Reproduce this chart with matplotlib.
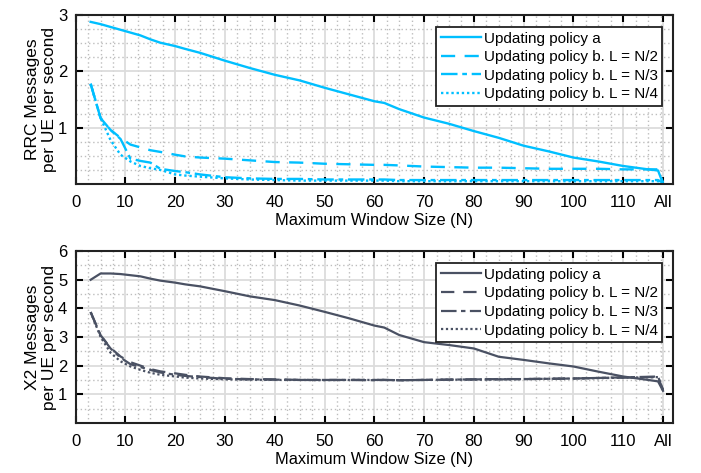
import numpy as np
import matplotlib
matplotlib.use('Agg')
import matplotlib.pyplot as plt
from matplotlib.ticker import MultipleLocator

plt.rcParams['font.family'] = ['Liberation Sans', 'DejaVu Sans']

# window sizes (last point is "All")
N = [3, 5, 7, 9, 11, 13, 15, 17, 20, 22, 25, 30, 35, 40, 45, 50, 55, 60, 62, 65,
     70, 75, 80, 85, 90, 95, 100, 105, 110, 115, 117, 118]
x_ticks = [0, 10, 20, 30, 40, 50, 60, 70, 80, 90, 100, 110, 118]
x_ticklabels = ['0', '10', '20', '30', '40', '50', '60', '70', '80', '90', '100', '110', 'All']

labels = ['Updating policy a', 'Updating policy b. L = N/2',
          'Updating policy b. L = N/3', 'Updating policy b. L = N/4']

# RRC messages per UE per second
rrc_a = [2.88, 2.84, 2.79, 2.74, 2.69, 2.64, 2.57, 2.51, 2.45, 2.40, 2.33, 2.19, 2.06, 1.94,
         1.84, 1.71, 1.59, 1.47, 1.44, 1.33, 1.18, 1.07, 0.94, 0.82, 0.68, 0.58, 0.47, 0.40,
         0.32, 0.26, 0.24, 0.01]
rrc_b2 = [1.78, 1.17, 0.96, 0.82, 0.70, 0.65, 0.60, 0.57, 0.52, 0.49, 0.47, 0.45, 0.42, 0.39,
          0.38, 0.36, 0.35, 0.34, 0.34, 0.33, 0.31, 0.30, 0.29, 0.29, 0.28, 0.27, 0.27, 0.27,
          0.26, 0.26, 0.26, 0.03]
rrc_b3 = [1.78, 1.17, 0.96, 0.80, 0.45, 0.41, 0.38, 0.27, 0.23, 0.21, 0.17, 0.12, 0.10, 0.09,
          0.09, 0.08, 0.08, 0.08, 0.08, 0.07, 0.07, 0.07, 0.07, 0.07, 0.07, 0.07, 0.07, 0.07,
          0.07, 0.07, 0.07, 0.02]
rrc_b4 = [1.78, 1.17, 0.78, 0.52, 0.40, 0.32, 0.28, 0.25, 0.17, 0.15, 0.13, 0.10, 0.08, 0.07,
          0.06, 0.06, 0.06, 0.06, 0.06, 0.05, 0.05, 0.05, 0.05, 0.05, 0.05, 0.05, 0.05, 0.05,
          0.05, 0.05, 0.05, 0.02]

# X2 messages per UE per second
x2_a = [5.00, 5.22, 5.22, 5.20, 5.16, 5.12, 5.04, 4.97, 4.90, 4.84, 4.77, 4.60, 4.42, 4.29,
        4.10, 3.88, 3.65, 3.40, 3.33, 3.07, 2.82, 2.72, 2.60, 2.31, 2.20, 2.08, 1.97, 1.79,
        1.62, 1.50, 1.45, 1.12]
x2_b2 = [3.87, 3.06, 2.62, 2.32, 2.12, 2.00, 1.88, 1.80, 1.73, 1.68, 1.62, 1.56, 1.53, 1.52,
         1.50, 1.50, 1.50, 1.50, 1.50, 1.49, 1.50, 1.51, 1.52, 1.53, 1.53, 1.54, 1.55, 1.57,
         1.58, 1.60, 1.60, 1.15]
x2_b3 = [3.87, 3.06, 2.60, 2.28, 2.05, 1.95, 1.85, 1.76, 1.68, 1.64, 1.60, 1.54, 1.52, 1.51,
         1.50, 1.50, 1.50, 1.49, 1.50, 1.49, 1.50, 1.51, 1.52, 1.52, 1.53, 1.54, 1.55, 1.57,
         1.59, 1.61, 1.62, 1.15]
x2_b4 = [3.87, 3.00, 2.45, 2.15, 1.97, 1.85, 1.75, 1.68, 1.62, 1.58, 1.55, 1.52, 1.51, 1.50,
         1.50, 1.49, 1.50, 1.50, 1.50, 1.49, 1.50, 1.51, 1.51, 1.52, 1.53, 1.54, 1.55, 1.56,
         1.58, 1.59, 1.60, 1.15]

styles = ['-', (0, (6, 4)), (0, (7, 2, 2, 2)), (0, (1, 1.2))]


def setup(ax, ymax, yminor, ylabel):
    ax.set_xlim(0, 120)
    ax.set_ylim(0, ymax)
    ax.set_xticks(x_ticks)
    ax.set_xticklabels(x_ticklabels)
    ax.set_yticks(np.arange(1, ymax + 1))
    ax.xaxis.set_minor_locator(MultipleLocator(2.5))
    ax.yaxis.set_minor_locator(MultipleLocator(yminor))
    ax.grid(True, which='major', color='#dcdcdc', lw=1.3)
    ax.grid(True, which='minor', color='#bdbdbd', lw=1.0, ls=(0, (1, 2)))
    ax.set_axisbelow(True)
    ax.tick_params(which='major', direction='in', top=True, right=True,
                   length=5, width=1.5, labelsize=12, pad=6)
    ax.tick_params(axis='x', which='major', pad=8)
    ax.tick_params(which='minor', length=0)
    for s in ax.spines.values():
        s.set_linewidth(1.5)
        s.set_color('#222222')
    ax.set_xlabel('Maximum Window Size (N)', fontsize=11.8, labelpad=2)
    ax.set_ylabel(ylabel, fontsize=12.5, linespacing=1.1, labelpad=1)


fig = plt.figure(figsize=(7.01, 4.73), dpi=100)
ax1 = fig.add_axes([0.108, 0.611, 0.852, 0.357])
ax2 = fig.add_axes([0.108, 0.106, 0.852, 0.363])

cyan = '#00bfff'
for ys, st, lb in zip([rrc_a, rrc_b2, rrc_b3, rrc_b4], styles, labels):
    ax1.plot(N, ys, color=cyan, ls=st, lw=1.7, label=lb)
setup(ax1, 3, 0.25, 'RRC Messages\nper UE per second')

slate = '#4a5163'
for ys, st, lb in zip([x2_a, x2_b2, x2_b3, x2_b4], styles, labels):
    ax2.plot(N, ys, color=slate, ls=st, lw=1.6, label=lb)
setup(ax2, 6, 0.5, 'X2 Messages\nper UE per second')

for ax in (ax1, ax2):
    leg = ax.legend(loc='upper right', bbox_to_anchor=(0.982, 0.93), fontsize=11,
                    handlelength=2.6, handletextpad=0.2, borderpad=0.3,
                    labelspacing=0.3, borderaxespad=0, fancybox=False, framealpha=1)
    leg.get_frame().set_edgecolor('#222222')
    leg.get_frame().set_linewidth(1.3)

fig.savefig('out.png', dpi=100)
